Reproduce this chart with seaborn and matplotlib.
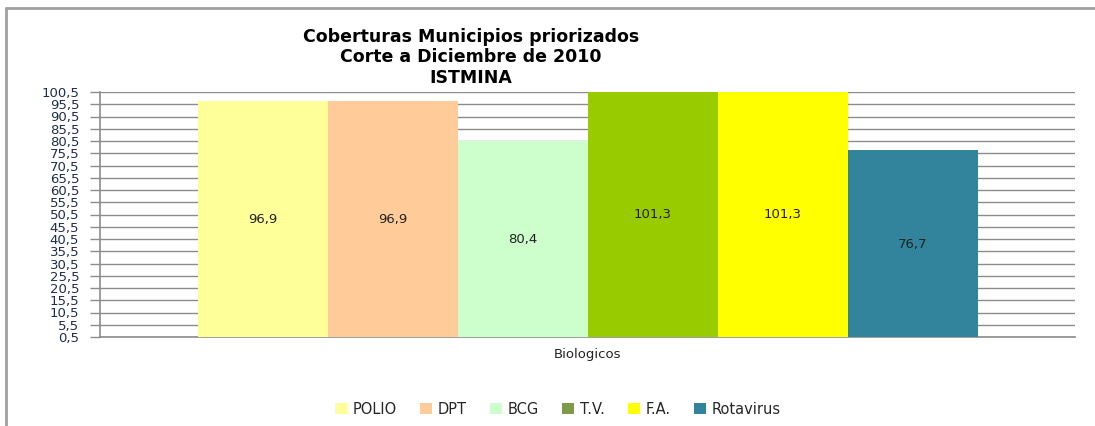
import numpy as np
import pandas as pd
import matplotlib
matplotlib.use("Agg")
import matplotlib.pyplot as plt
from matplotlib.lines import Line2D
from matplotlib.patches import Patch
import seaborn as sns

# Coverage values per vaccine (Istmina, Dec 2010)
vaccines = ['POLIO', 'DPT', 'BCG', 'T.V.', 'F.A.', 'Rotavirus']
coverage = [96.9, 96.9, 80.4, 101.3, 101.3, 76.7]
category = ['Biologicos'] * len(vaccines)
bar_colors = ['#FFFF99', '#FFCC99', '#CCFFCC', '#99CC00', '#FFFF00', '#31849B']
legend_colors = ['#FFFF99', '#FFCC99', '#CCFFCC', '#7F9A48', '#FFFF00', '#31849B']

data = pd.DataFrame({'Categoria': category, 'Vacuna': vaccines, 'Cobertura': coverage})

sns.set_style('white')
plt.rcParams['font.family'] = ['DejaVu Sans']

fig = plt.figure(figsize=(10.95, 4.26), dpi=100)
ax = fig.add_axes([100 / 1095, 89 / 426, 975 / 1095, 245 / 426])

sns.barplot(data=data, x='Categoria', y='Cobertura', hue='Vacuna',
            palette=bar_colors, saturation=1, width=0.8, edgecolor='none',
            legend=False, ax=ax, zorder=3)

yticks = np.arange(0.5, 101, 5)
ax.set_ylim(0.5, 100.5)
ax.set_yticks(yticks)
ax.set_yticklabels([f"{v:.1f}".replace('.', ',') for v in yticks],
                   fontsize=9.5, color='#1F2D4D')
ax.yaxis.grid(True, color='#8C8C8C', linewidth=1, zorder=0)
ax.set_axisbelow(True)
ax.set_xlabel('')
ax.set_ylabel('')
ax.tick_params(axis='y', length=7, width=1, color='#8C8C8C', pad=8, direction='out', left=True)
ax.tick_params(axis='x', length=0, pad=8, labelsize=9.5, labelcolor='#222222')
for s in ['top', 'right']:
    ax.spines[s].set_visible(False)
for s in ['left', 'bottom']:
    ax.spines[s].set_color('#8C8C8C')
    ax.spines[s].set_linewidth(1.2)

# value labels centred inside each bar
for cont in ax.containers:
    for bar in cont:
        h = bar.get_height()
        ax.text(bar.get_x() + bar.get_width() / 2, h / 2,
                f"{h:.1f}".replace('.', ','), ha='center', va='center',
                fontsize=9.5, color='#222222', zorder=5)

# title
title_lines = ['Coberturas Municipios priorizados', 'Corte a Diciembre de 2010', 'ISTMINA']
for line, ypx in zip(title_lines, [37, 57, 78]):
    fig.text(471 / 1095, 1 - ypx / 426, line, ha='center', va='center',
             fontsize=12.5, fontweight='bold', color='black')

# legend
handles = [Patch(facecolor=c, edgecolor='none') for c in legend_colors]
fig.legend(handles, vaccines, loc='center', bbox_to_anchor=(558 / 1095, 1 - 409 / 426),
           ncol=6, frameon=False, fontsize=10.5, handlelength=0.8, handleheight=0.8,
           handletextpad=0.4, columnspacing=1.6)

# outer chart border (top and left visible)
fig.add_artist(Line2D([6 / 1095, 6 / 1095], [0, 1 - 8 / 426], color='#A0A0A0', lw=2))
fig.add_artist(Line2D([6 / 1095, 1], [1 - 8 / 426, 1 - 8 / 426], color='#A0A0A0', lw=2))

fig.savefig('out.png', dpi=100)
